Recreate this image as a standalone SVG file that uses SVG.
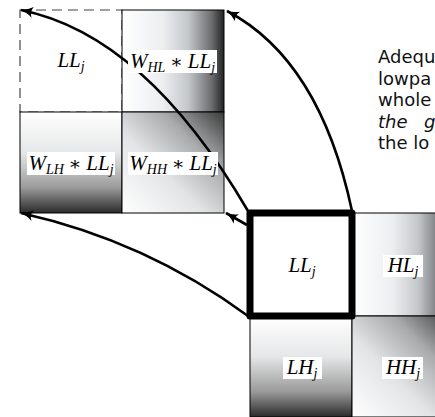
<svg xmlns="http://www.w3.org/2000/svg" width="435" height="417" viewBox="0 0 435 417">
<style>
.m{font-family:"Liberation Serif","DejaVu Serif",serif;font-style:italic;font-size:21px;fill:#000}
.s{font-size:14px}
.op{font-style:normal;font-size:19px}
.lab{fill:#fff}
.cell{stroke:#000;stroke-width:1}
.dash{fill:#fff;stroke:#444;stroke-width:1.2;stroke-dasharray:10 6}
.arr{fill:none;stroke:#000;stroke-width:2.6;marker-end:url(#ah)}
.txt{font-family:"DejaVu Sans","Liberation Sans",sans-serif;font-size:18px;fill:#111}
</style>
<defs>
<linearGradient id="gH" x1="0" y1="0" x2="1" y2="0">
<stop offset="0" stop-color="#ffffff"/><stop offset="0.4" stop-color="#eceef0"/><stop offset="0.65" stop-color="#c4c7ca"/><stop offset="0.88" stop-color="#6a6c6e"/><stop offset="1" stop-color="#222"/>
</linearGradient>
<linearGradient id="gV" x1="0" y1="0" x2="0" y2="1">
<stop offset="0" stop-color="#ffffff"/><stop offset="0.4" stop-color="#e6e7e8"/><stop offset="0.75" stop-color="#9a9a9a"/><stop offset="1" stop-color="#2a2a2a"/>
</linearGradient>
<linearGradient id="gD" x1="1" y1="0" x2="0" y2="1">
<stop offset="0" stop-color="#3a3a3a"/><stop offset="0.3" stop-color="#a8aaac"/><stop offset="0.6" stop-color="#e2e4e6"/><stop offset="1" stop-color="#ffffff"/>
</linearGradient>
<marker id="ah" viewBox="0 0 13 11" refX="12" refY="5.5" markerWidth="13" markerHeight="11" markerUnits="userSpaceOnUse" orient="auto">
<path d="M0,0 Q6,4.5 13,5.5 Q6,6.5 0,11 Q3.5,5.5 0,0 z" fill="#000"/>
</marker>
</defs>

<g id="left-grid">
<g id="cell-LLj-left">
<rect class="dash" x="20" y="10" width="102" height="102"/>
<text class="m" x="71" y="67" text-anchor="middle">LL<tspan class="s" dy="4">j</tspan></text>
</g>
<g id="cell-WHL">
<rect class="cell" x="122" y="10" width="102" height="102" fill="url(#gH)"/>
</g>
<g id="cell-WLH">
<rect class="cell" x="20" y="112" width="102" height="101" fill="url(#gV)"/>
</g>
<g id="cell-WHH">
<rect class="cell" x="122" y="112" width="102" height="101" fill="url(#gD)"/>
</g>
</g>

<g id="right-grid">
<g id="cell-HLj">
<rect class="cell" x="352" y="213" width="102" height="103" fill="url(#gH)"/>
</g>
<g id="cell-LHj">
<rect class="cell" x="250" y="316" width="102" height="101" fill="url(#gV)"/>
</g>
<g id="cell-HHj">
<rect class="cell" x="352" y="316" width="102" height="101" fill="url(#gD)"/>
</g>
<g id="cell-LLj">
<rect x="250" y="213" width="102" height="103" fill="#fff" stroke="#000" stroke-width="7" stroke-linejoin="round"/>
<text class="m" x="302" y="272" text-anchor="middle">LL<tspan class="s" dy="4">j</tspan></text>
</g>
</g>

<g id="connectors">
<path class="arr" d="M248,211 Q145,35 21,10"/>
<path class="arr" d="M352,211 Q320,60 227,11"/>
<path class="arr" d="M248,316 Q146,241 21,213"/>
<path class="arr" d="M247,225 L226,213"/>
</g>

<g id="labels">
<g id="lab-WHL">
<rect class="lab" x="128" y="50" width="89" height="23"/>
<text class="m" x="172.5" y="68" text-anchor="middle">W<tspan class="s" dy="4">HL</tspan><tspan class="op" dy="-4"> ∗ </tspan>LL<tspan class="s" dy="4">j</tspan></text>
</g>
<g id="lab-WLH">
<rect class="lab" x="27" y="152" width="88" height="23"/>
<text class="m" x="71" y="170" text-anchor="middle">W<tspan class="s" dy="4">LH</tspan><tspan class="op" dy="-4"> ∗ </tspan>LL<tspan class="s" dy="4">j</tspan></text>
</g>
<g id="lab-WHH">
<rect class="lab" x="128" y="152" width="90" height="23"/>
<text class="m" x="173" y="170" text-anchor="middle">W<tspan class="s" dy="4">HH</tspan><tspan class="op" dy="-4"> ∗ </tspan>LL<tspan class="s" dy="4">j</tspan></text>
</g>
<g id="lab-HLj">
<rect class="lab" x="383" y="255" width="40" height="22"/>
<text class="m" x="403" y="272" text-anchor="middle">HL<tspan class="s" dy="4">j</tspan></text>
</g>
<g id="lab-LHj">
<rect class="lab" x="283" y="357" width="39" height="22"/>
<text class="m" x="302" y="374" text-anchor="middle">LH<tspan class="s" dy="4">j</tspan></text>
</g>
<g id="lab-HHj">
<rect class="lab" x="382" y="357" width="41" height="22"/>
<text class="m" x="403" y="374" text-anchor="middle">HH<tspan class="s" dy="4">j</tspan></text>
</g>
</g>

<g id="side-text">
<text class="txt" x="378" y="63">Adequ</text>
<text class="txt" x="378" y="84.5">lowpa</text>
<text class="txt" x="378" y="106">whole</text>
<text class="txt" x="378" y="127.5"><tspan font-style="italic">the</tspan><tspan x="424" font-style="italic">g</tspan></text>
<text class="txt" x="378" y="149">the lo</text>
</g>
</svg>
